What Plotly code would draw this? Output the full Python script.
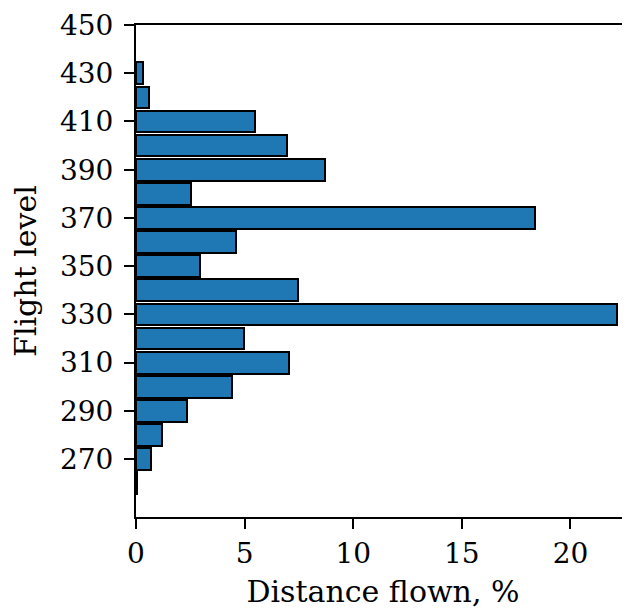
import plotly.graph_objects as go

flight_levels = [260, 270, 280, 290, 300, 310, 320, 330, 340, 350, 360, 370, 380, 390, 400, 410, 420, 430]
distance_pct = [0.05, 0.7, 1.2, 2.35, 4.4, 7.05, 4.95, 22.15, 7.45, 2.95, 4.6, 18.35, 2.55, 8.72, 6.95, 5.5, 0.6, 0.3]
y_ticks = [270, 290, 310, 330, 350, 370, 390, 410, 430, 450]
x_ticks = [0, 5, 10, 15, 20]

FONT = "DejaVu Serif"
TICK_SIZE = 28
TITLE_SIZE = 30

fig = go.Figure()
fig.add_trace(go.Bar(
    x=distance_pct,
    y=flight_levels,
    orientation="h",
    width=9,
    marker=dict(color="#1f77b4", line=dict(color="black", width=2)),
))

# the page body adds an 8px offset, so the figure is sized to fit the window
fig.update_layout(
    width=622,
    height=601,
    margin=dict(l=128, r=0, t=17, b=92),
    plot_bgcolor="white",
    paper_bgcolor="white",
    showlegend=False,
    font=dict(family=FONT, size=TICK_SIZE, color="black"),
    bargap=0,
)
fig.update_xaxes(
    range=[0, 22.74],
    tickvals=x_ticks,
    ticktext=[str(v) for v in x_ticks],
    ticks="outside",
    ticklen=10,
    tickwidth=1.5,
    tickcolor="black",
    showline=True,
    linecolor="black",
    linewidth=2,
    mirror=True,
    showgrid=False,
    zeroline=False,
    automargin=False,
    title=dict(text="Distance flown, %", font=dict(family=FONT, size=TITLE_SIZE), standoff=13),
    tickfont=dict(family=FONT, size=TICK_SIZE),
)
fig.update_yaxes(
    range=[246, 450],
    tickvals=y_ticks,
    ticktext=[str(v) for v in y_ticks],
    ticks="outside",
    ticklen=10,
    tickwidth=1.5,
    tickcolor="black",
    ticklabelstandoff=5,
    showline=True,
    linecolor="black",
    linewidth=2,
    showgrid=False,
    zeroline=False,
    automargin=False,
    title=dict(text="Flight level", font=dict(family=FONT, size=TITLE_SIZE), standoff=18),
    tickfont=dict(family=FONT, size=TICK_SIZE),
)

fig.write_html("out.html")
